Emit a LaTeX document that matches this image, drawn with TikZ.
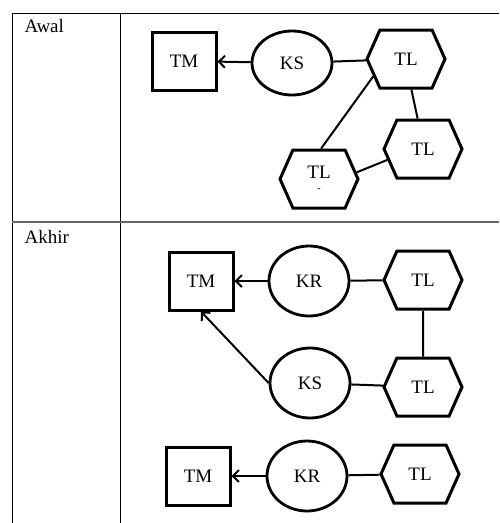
\documentclass[tikz,border=0pt]{standalone}
\usepackage{fontspec}
\setmainfont{Liberation Serif}
\usetikzlibrary{shapes.geometric,shapes.symbols,arrows.meta}
\begin{document}
\begin{tikzpicture}[x=1pt,y=-1pt,
    every node/.style={font=\fontsize{19}{21}\selectfont},
    tm/.style={draw,line width=3pt,minimum width=64pt,minimum height=58pt,inner sep=0pt},
    kk/.style={draw,ellipse,line width=2.8pt,minimum width=80pt,minimum height=64pt,inner sep=0pt},
    tl/.style={draw,signal,signal to=east and west,signal pointer angle=132,line width=3pt,
               minimum width=78pt,minimum height=58pt,inner sep=0pt},
    link/.style={line width=2pt},
    flow/.style={line width=2pt,-{Straight Barb[length=6pt,width=12pt,line width=2pt]}}]
                \useasboundingbox (0,0) rectangle (499,523);
                % table
                \draw[line width=1pt] (499,13) -- (12,13) -- (12,523);
                \draw[line width=1pt] (120,13) -- (120,523);
                \draw[line width=1.5pt,black!60] (12,222) -- (499,222);
                \node[anchor=base west,font=\fontsize{19}{21}\selectfont] (awal) at (21,32) {Awal};
                \node[anchor=base west,font=\fontsize{19}{21}\selectfont] (akhir) at (21,243) {Akhir};

                % awal
                \node[tm] (tma) at (184,61) {TM};
                \node[kk] (ksa) at (292,63) {KS};
                \node[tl] (tla) at (406,59) {TL};
                \node[tl] (tlb) at (423,149) {TL};
                \node[tl,align=center] (tlc) at (319,179) {TL\\[-8pt]{\fontsize{10}{10}\selectfont -}};

                \draw[flow] (ksa) -- (tma);
                \foreach \from/\to in {ksa/tla,tla.208/tlc.86,tla.-80/tlb.100,tlc.10/tlb.197}
                  \draw[link] (\from) -- (\to);

                % akhir
                \node[tm] (tmb) at (201,281) {TM};
                \node[kk,minimum height=70pt] (krb) at (309,281) {KR};
                \node[tl] (tld) at (423,280) {TL};
                \node[kk,minimum height=70pt] (ksb) at (310,383) {KS};
                \node[tl] (tle) at (423,387) {TL};
                \node[tm] (tmc) at (198,476) {TM};
                \node[kk,minimum height=70pt] (krc) at (307,476) {KR};
                \node[tl] (tlf) at (420,474) {TL};

                \foreach \from/\to in {krb/tmb,ksb.west/tmb.south,krc/tmc}
                  \draw[flow] (\from) -- (\to);
                \foreach \from/\to in {tld/krb,tld/tle,tle/ksb,tlf/krc}
                  \draw[link] (\from) -- (\to);
\end{tikzpicture}
\end{document}
